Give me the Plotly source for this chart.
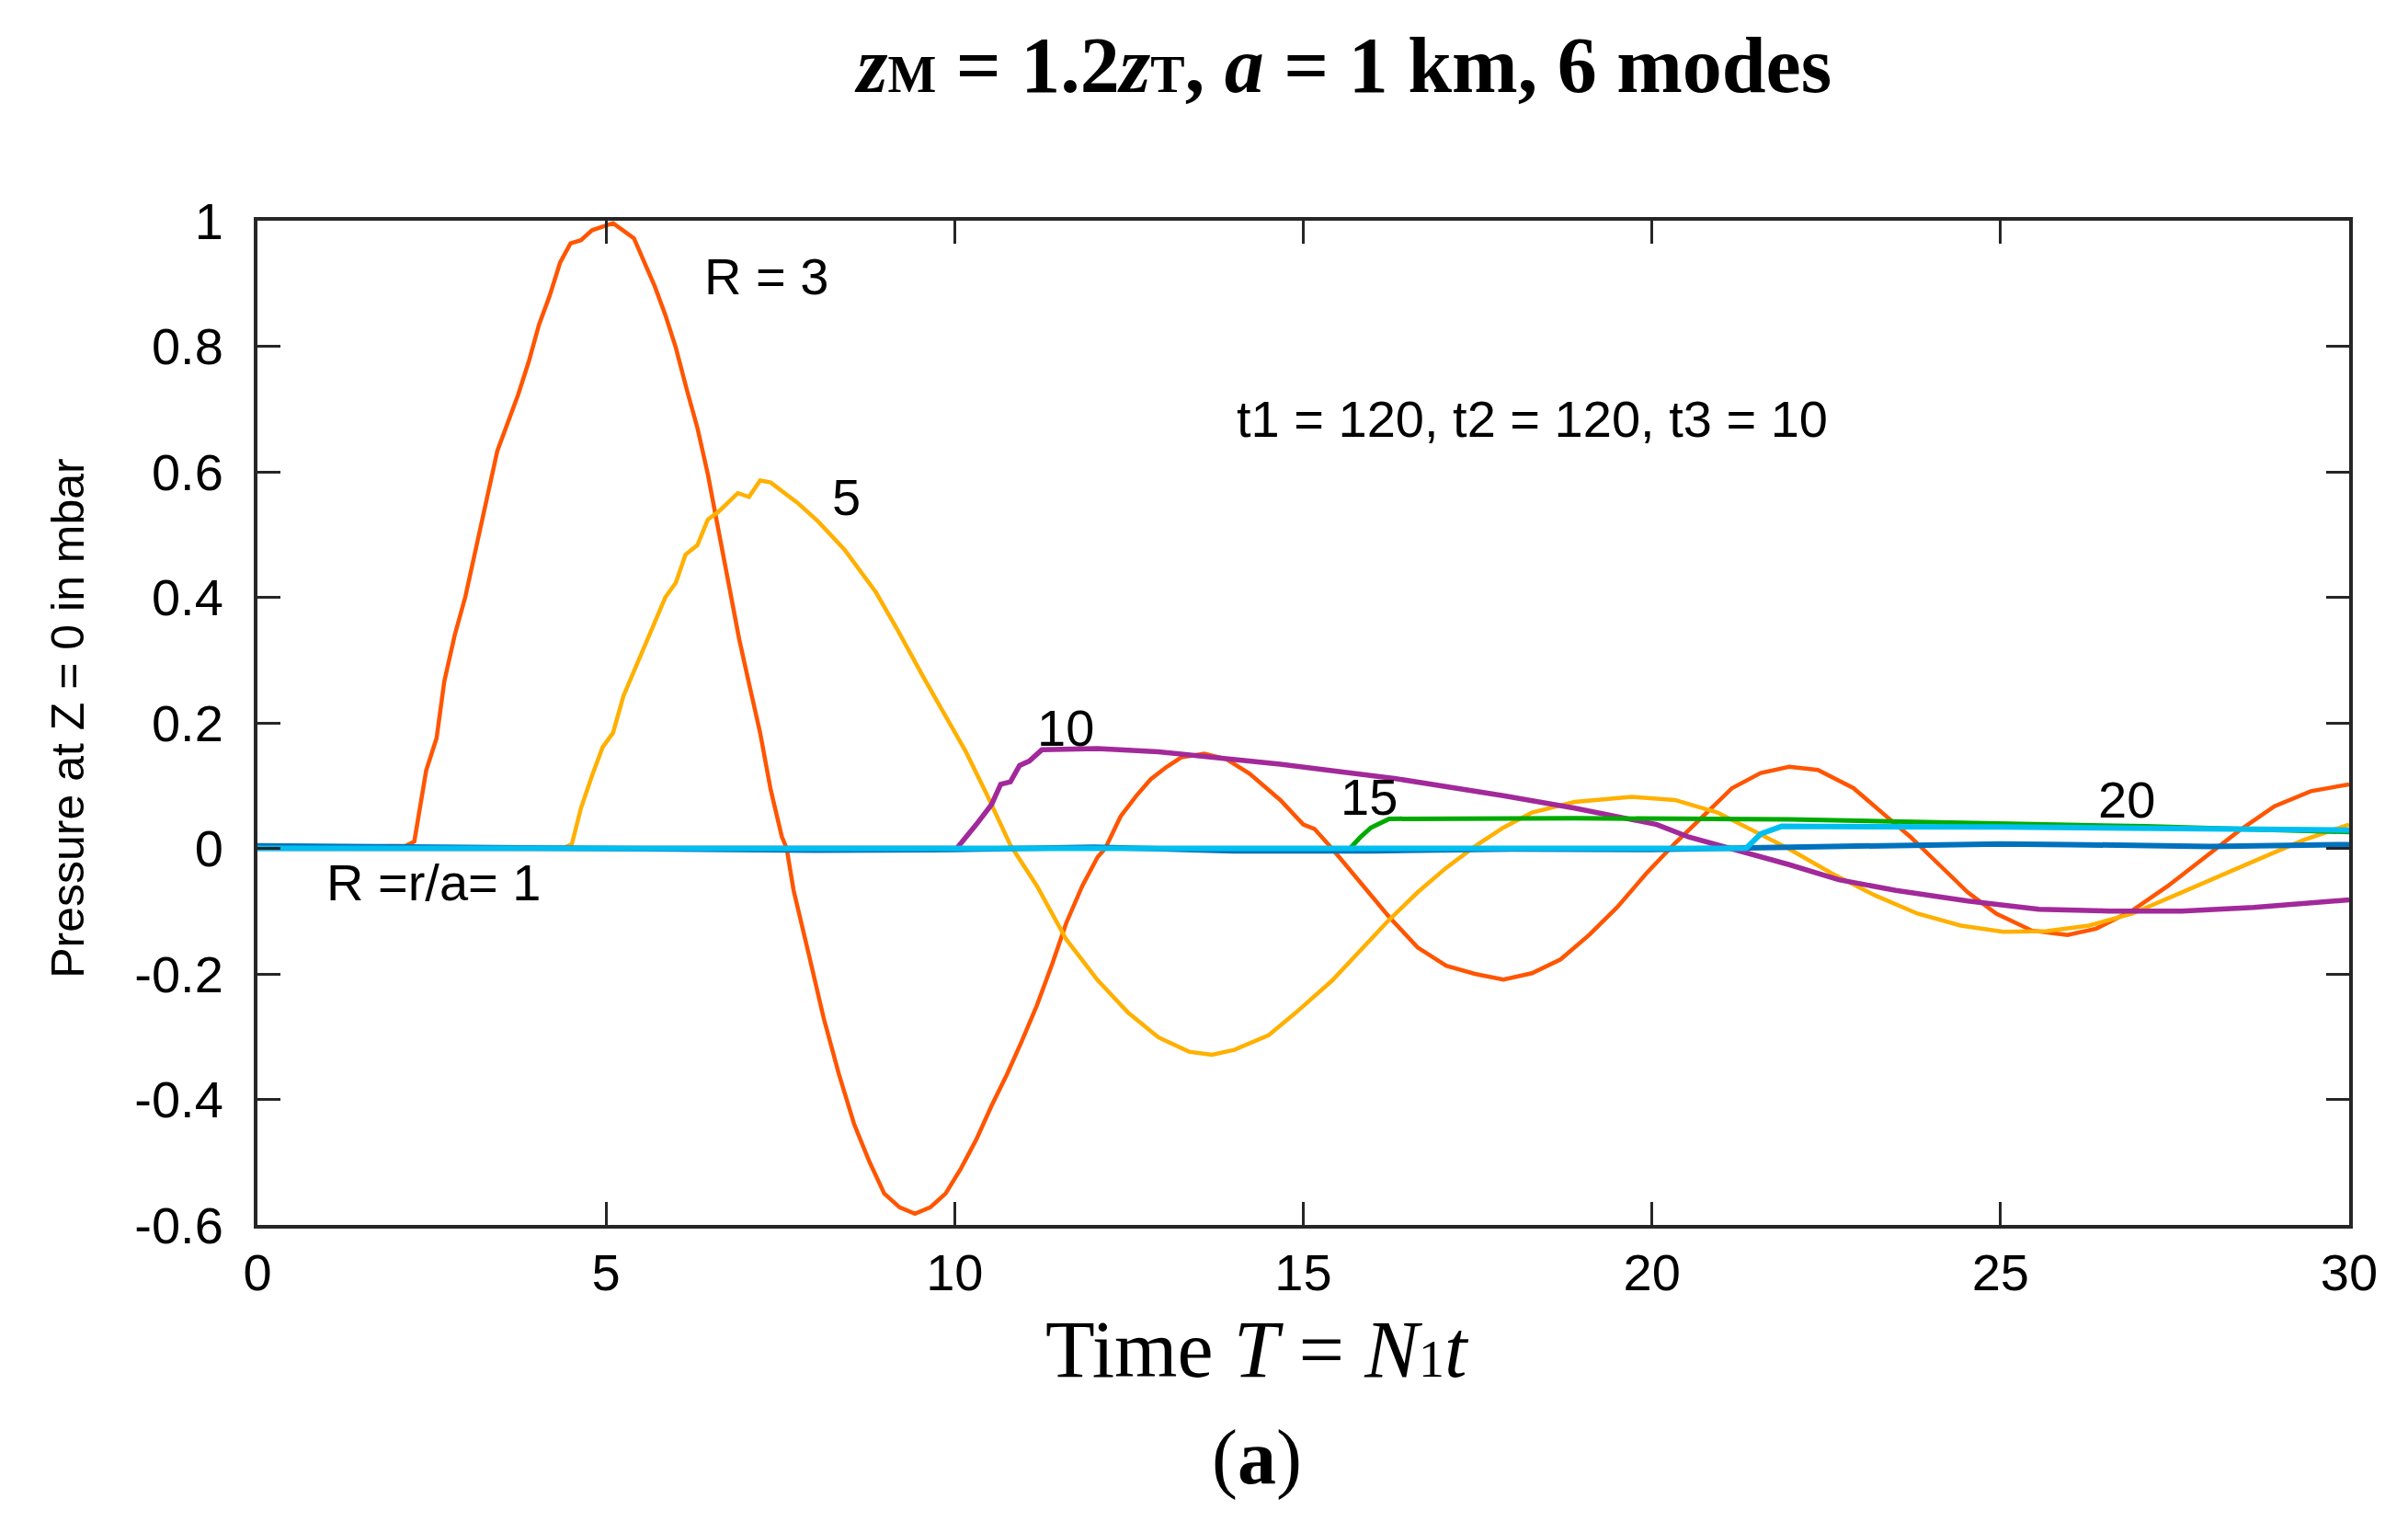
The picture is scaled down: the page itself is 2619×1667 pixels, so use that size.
import plotly.graph_objects as go

# time axis values T = N1 t and pressure (mbar) read for each radius R = r/a
t_r3 = [0, 2.13, 2.25, 2.42, 2.57, 2.68, 2.83, 2.98, 3.13, 3.29, 3.44, 3.59, 3.74, 3.89,
        4.04, 4.19, 4.34, 4.49, 4.64, 4.8, 5.1, 5.4, 5.55, 5.7, 5.85, 6.0, 6.16, 6.31,
        6.46, 6.61, 6.76, 6.91, 7.06, 7.21, 7.36, 7.52, 7.59, 7.69, 7.91, 8.12, 8.34,
        8.56, 8.78, 8.99, 9.21, 9.43, 9.65, 9.87, 10.09, 10.31, 10.53, 10.75, 10.96,
        11.18, 11.4, 11.6, 11.83, 12.05, 12.16, 12.38, 12.6, 12.81, 13.03, 13.25, 13.58,
        13.9, 14.23, 14.67, 15.0, 15.16, 15.41, 15.82, 16.23, 16.64, 17.05, 17.46, 17.87,
        18.28, 18.69, 19.1, 19.5, 19.92, 20.33, 20.74, 21.15, 21.56, 21.97, 22.38, 22.89,
        23.3, 23.71, 24.12, 24.53, 24.94, 25.45, 25.96, 26.37, 26.89, 27.4, 27.91, 28.42,
        28.93, 29.45, 30]
p_r3 = [0, 0.004, 0.011, 0.124, 0.176, 0.266, 0.34, 0.4, 0.476, 0.558, 0.633, 0.678, 0.723,
        0.775, 0.835, 0.88, 0.933, 0.964, 0.969, 0.985, 0.996, 0.972, 0.933, 0.895, 0.85,
        0.798, 0.73, 0.67, 0.596, 0.506, 0.416, 0.333, 0.258, 0.184, 0.094, 0.019, 0,
        -0.067, -0.17, -0.27, -0.36, -0.44, -0.50, -0.55, -0.572, -0.582, -0.572, -0.55,
        -0.51, -0.464, -0.41, -0.36, -0.308, -0.25, -0.184, -0.119, -0.06, -0.014, 0,
        0.051, 0.083, 0.11, 0.129, 0.145, 0.151, 0.142, 0.119, 0.077, 0.038, 0.031, 0.0,
        -0.055, -0.109, -0.158, -0.187, -0.2, -0.209, -0.199, -0.177, -0.138, -0.094,
        -0.04, 0.008, 0.052, 0.096, 0.12, 0.13, 0.125, 0.096, 0.057, 0.018, -0.026, -0.07,
        -0.104, -0.131, -0.138, -0.128, -0.099, -0.06, -0.016, 0.028, 0.067, 0.091, 0.102]

t_r5 = [0, 4.38, 4.51, 4.64, 4.8, 4.95, 5.1, 5.25, 5.48, 5.7, 5.85, 6.0, 6.14, 6.31, 6.46,
        6.61, 6.76, 6.89, 7.05, 7.21, 7.36, 7.74, 8.04, 8.42, 8.87, 9.18, 9.55, 9.86,
        10.16, 10.46, 10.8, 11.18, 11.6, 12.05, 12.49, 12.92, 13.36, 13.69, 14.01, 14.5,
        14.89, 15.41, 15.82, 16.23, 16.64, 17.05, 17.46, 17.87, 18.28, 18.89, 19.71, 20.33,
        20.94, 21.45, 21.97, 22.58, 23.2, 23.81, 24.43, 25.04, 25.66, 26.27, 26.89, 27.5,
        28.11, 28.73, 29.34, 30]
p_r5 = [0, 0, 0.007, 0.064, 0.116, 0.161, 0.184, 0.243, 0.303, 0.363, 0.4, 0.423, 0.468,
        0.483, 0.524, 0.536, 0.551, 0.566, 0.56, 0.586, 0.583, 0.551, 0.521, 0.476, 0.408,
        0.348, 0.273, 0.213, 0.154, 0.086, 0.005, -0.06, -0.145, -0.21, -0.262, -0.301,
        -0.324, -0.329, -0.321, -0.298, -0.262, -0.211, -0.162, -0.114, -0.07, -0.031,
        0.003, 0.033, 0.057, 0.074, 0.082, 0.077, 0.057, 0.028, -0.001, -0.04, -0.075,
        -0.104, -0.123, -0.133, -0.132, -0.123, -0.104, -0.075, -0.045, -0.016, 0.013, 0.038]

t_r10 = [0, 10.03, 10.31, 10.53, 10.66, 10.8, 10.93, 11.07, 11.25, 12.05, 12.92, 13.79,
         14.67, 16.33, 17.87, 18.89, 20.07, 20.53, 21.35, 21.97, 22.68, 23.5, 24.53, 25.55,
         26.58, 27.6, 28.63, 30]
p_r10 = [0, 0, 0.038, 0.07, 0.102, 0.106, 0.132, 0.139, 0.157, 0.159, 0.154, 0.145, 0.134,
         0.111, 0.084, 0.064, 0.038, 0.018, -0.006, -0.026, -0.05, -0.067, -0.084, -0.097,
         -0.1, -0.1, -0.094, -0.082]

t_r15 = [0, 15.67, 15.82, 15.97, 16.23, 18.89, 21.97, 25.04, 27.09, 30]
p_r15 = [0, 0, 0.018, 0.033, 0.047, 0.048, 0.046, 0.039, 0.035, 0.026]

t_r1 = [0, 2, 4, 6, 8, 10, 12, 14, 15, 16, 18, 20, 22, 24, 25, 26, 28, 30]
p_r1 = [0.004, 0.002, 0.001, -0.001, -0.003, -0.002, 0.002, -0.004, -0.005, -0.004, -0.001,
        -0.002, 0.002, 0.006, 0.007, 0.006, 0.003, 0.006]

t_r20 = [0, 21.35, 21.56, 21.86, 25.04, 28.11, 30]
p_r20 = [0, 0, 0.023, 0.035, 0.034, 0.032, 0.029]

x_ticks = [0, 5, 10, 15, 20, 25, 30]
y_ticks = [-0.6, -0.4, -0.2, 0, 0.2, 0.4, 0.6, 0.8, 1]
y_tick_text = ["-0.6", "-0.4", "-0.2", "0", "0.2", "0.4", "0.6", "0.8", "1"]

# curve labels (text, T, value)
labels = [
    ("R = 3", 7.3, 0.912),
    ("5", 8.45, 0.56),
    ("t1 = 120, t2 = 120, t3 = 10", 18.28, 0.684),
    ("10", 11.59, 0.192),
    ("15", 15.94, 0.082),
    ("20", 26.81, 0.077),
    ("R =r/a= 1", 2.53, -0.054),
]

sans = "Liberation Sans, Arial, sans-serif"
serif = "Liberation Serif, Times New Roman, serif"
axis_colour = "#262626"

# drawing order and styles
series = [
    (t_r3, p_r3, "#ff5500", 4.5),
    (t_r5, p_r5, "#ffb000", 4.5),
    (t_r10, p_r10, "#a2299a", 5.5),
    (t_r15, p_r15, "#00aa00", 5),
    (t_r1, p_r1, "#0072bd", 6),
    (t_r20, p_r20, "#00bff0", 6),
]

fig = go.Figure()
for t, p, colour, width in series:
    fig.add_trace(go.Scatter(
        x=t, y=p, mode="lines",
        line=dict(color=colour, width=width),
        showlegend=False))

for text, tx, ty in labels:
    fig.add_annotation(
        x=tx, y=ty, xref="x", yref="y", text=text, showarrow=False,
        xanchor="center", yanchor="middle",
        font=dict(family=sans, size=56, color="black"))

# titles as free annotations so they sit where the reference has them
fig.add_annotation(
    x=0.519, y=1.155, xref="paper", yref="paper", showarrow=False,
    xanchor="center", yanchor="middle",
    text="<b><i>z</i><span style='font-size:56px'>M</span> = 1.2<i>z</i>"
         "<span style='font-size:56px'>T</span>, <i>a</i> = 1 km, 6 modes</b>",
    font=dict(family=serif, size=86, color="black"))
fig.add_annotation(
    x=0.478, y=-0.124, xref="paper", yref="paper", showarrow=False,
    xanchor="center", yanchor="middle",
    text="Time <i>T</i> = <i>N</i><span style='font-size:56px'>1</span><i>t</i>",
    font=dict(family=serif, size=88, color="black"))
fig.add_annotation(
    x=0.478, y=-0.232, xref="paper", yref="paper", showarrow=False,
    xanchor="center", yanchor="middle",
    text="(<b>a</b>)",
    font=dict(family=serif, size=84, color="black"))
fig.add_annotation(
    x=-0.0909, y=0.505, xref="paper", yref="paper", showarrow=False,
    xanchor="center", yanchor="middle",
    text="Pressure at Z = 0 in mbar", textangle=-90,
    font=dict(family=sans, size=50, color="black"))

fig.update_xaxes(
    range=[0, 30], tickvals=x_ticks, ticks="inside", ticklen=25, tickwidth=3,
    tickcolor=axis_colour, showline=True, linewidth=4, linecolor=axis_colour,
    mirror="ticks", showgrid=False, zeroline=False, ticklabelstandoff=0,
    tickfont=dict(family=sans, size=56, color="black"))
fig.update_yaxes(
    range=[-0.6, 1], tickvals=y_ticks, ticktext=y_tick_text, ticks="inside",
    ticklen=25, tickwidth=3, tickcolor=axis_colour, showline=True, linewidth=4,
    linecolor=axis_colour, mirror="ticks", showgrid=False, zeroline=False,
    ticklabelstandoff=22, tickfont=dict(family=sans, size=56, color="black"))

fig.update_layout(
    width=2619, height=1667,
    margin=dict(l=272, r=72, t=232, b=343),
    plot_bgcolor="white", paper_bgcolor="white",
)

fig.write_html("out.html")
